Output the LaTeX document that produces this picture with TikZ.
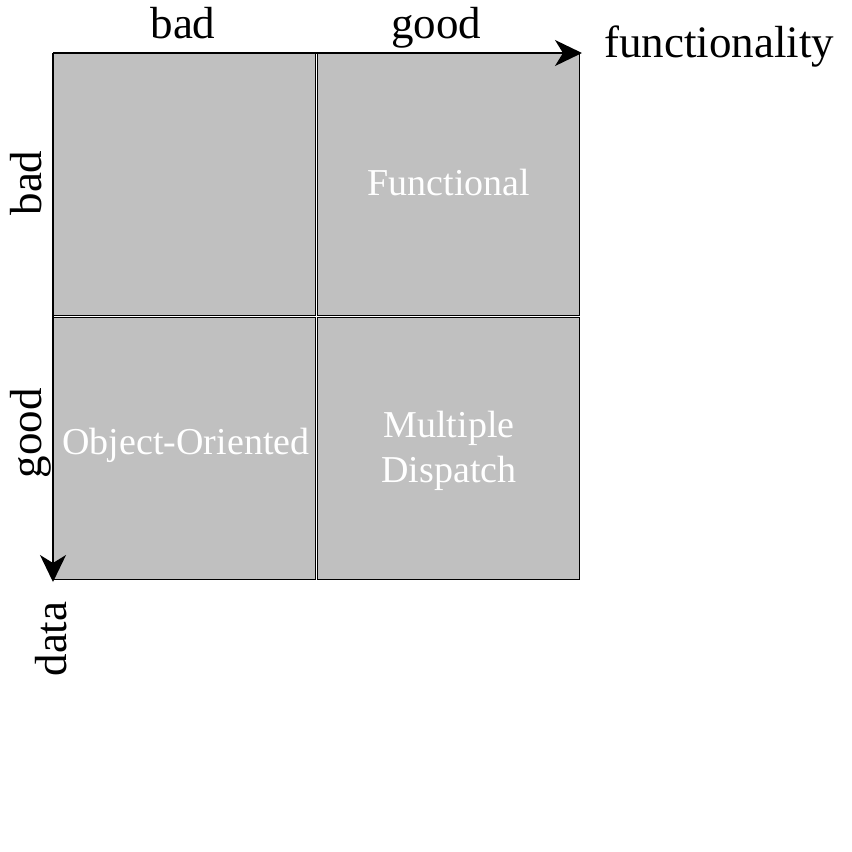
\documentclass[tikz,border=0pt]{standalone}
\usepackage{fontspec}
\setmainfont{Liberation Serif}
\usetikzlibrary{arrows.meta}
\definecolor{cellgray}{RGB}{192,192,192}
\tikzset{
  cell/.style={draw=black, fill=cellgray, line width=1.2pt, minimum size=262pt, inner sep=0pt, outer sep=0pt},
  axislabel/.style={font=\fontsize{45}{50}\selectfont, inner sep=0pt, text=black},
  celltext/.style={font=\fontsize{38}{45}\selectfont, text=white, inner sep=0pt, align=center},
  axisarrow/.style={line width=1.3pt, -{Stealth[length=27pt,width=26pt,inset=8pt]}}
}
\begin{document}
\begin{tikzpicture}[x=1pt,y=-1pt]
\useasboundingbox (0,0) rectangle (852,852);
% cells
\node[cell] (c11) at (184.5,184.5) {};
\node[cell] (c12) at (448.5,184.5) {};
\node[cell] (c21) at (184.5,448.5) {};
\node[cell] (c22) at (448.5,448.5) {};
% axes
\coordinate (o) at (53,53);
\coordinate (xe) at (582,53);
\coordinate (ye) at (53,582);
\draw[axisarrow] (o) -- (xe);
\draw[axisarrow] (o) -- (ye);
% top labels
\node[axislabel, anchor=base] (tbad) at (183,38) {bad};
\node[axislabel, anchor=base] (tgood) at (436,38) {good};
\node[axislabel, anchor=base west] (func) at (604,57) {functionality};
% left labels
\node[axislabel, anchor=base, rotate=90] (lbad) at (41,183) {bad};
\node[axislabel, anchor=base, rotate=90] (lgood) at (41,433) {good};
\node[axislabel, anchor=base, rotate=90] (ldata) at (66,639) {data};
% cell texts
\node[celltext, anchor=base] (tfun) at (449,195) {Functional};
\node[celltext, anchor=base] (toop) at (186,454) {Object-Oriented};
\node[celltext, anchor=center] (tmd) at (449,450.5) {Multiple\\Dispatch};
\end{tikzpicture}
\end{document}
